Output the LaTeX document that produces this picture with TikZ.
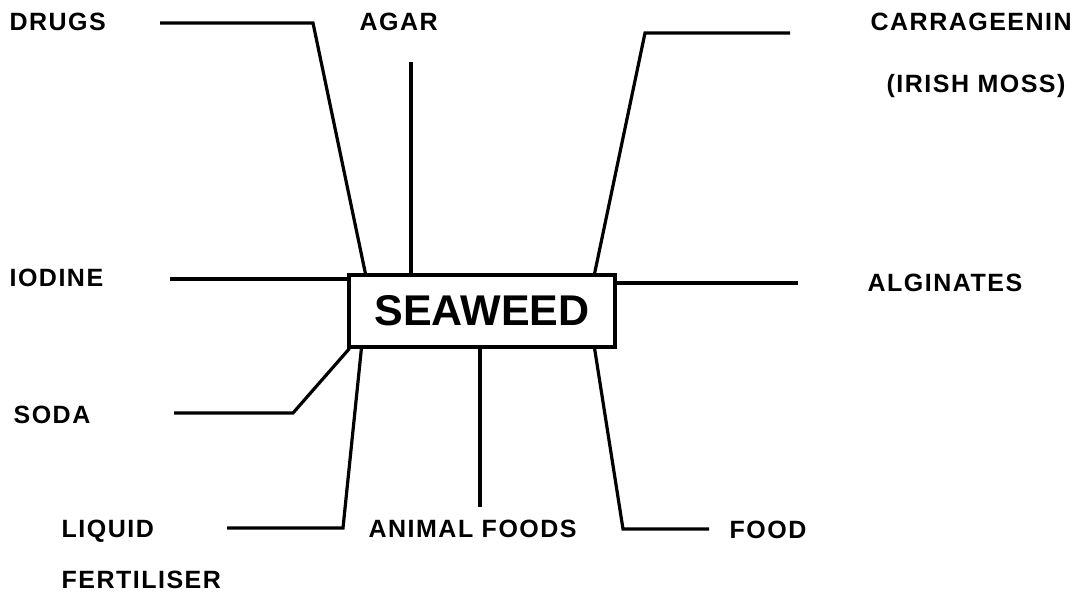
\documentclass[tikz,border=0pt]{standalone}
\usepackage{fontspec}
\setmainfont{Liberation Sans}
\newfontfamily\lblfont{Liberation Sans}[LetterSpace=6]
\usetikzlibrary{calc}
\tikzset{
  every picture/.style={line width=3.2pt, line join=miter},
  lbl/.style={font=\lblfont\bfseries\fontsize{25}{30}\selectfont, anchor=west, inner sep=0pt, text depth=0pt},
  hub/.style={draw, line width=3.2pt, minimum width=266pt, minimum height=72pt, inner sep=0pt,
    font=\bfseries\fontsize{43}{48}\selectfont},
  link/.style={draw=black},
}

\begin{document}
\begin{tikzpicture}[x=1pt, y=-1pt]
  \useasboundingbox (0,0) rectangle (1080,593);
  % centre box
  \node[hub] (seaweed) at (482,311) {SEAWEED};
  % labels
  \node[lbl] (drugs) at (8,22) {DRUGS};
  \node[lbl] (agar) at (358,22) {AGAR};
  \node[lbl] (carra) at (869,22) {CARRAGEENIN};
  \node[lbl] (irish) at (885,83) {(IRISH MOSS)};
  \node[lbl] (iodine) at (8,278) {IODINE};
  \node[lbl] (alginates) at (866,283) {ALGINATES};
  \node[lbl] (soda) at (12,415) {SODA};
  \node[lbl] (liquid) at (60,529) {LIQUID};
  \node[lbl] (fert) at (60,580) {FERTILISER};
  \node[lbl] (animal) at (367,529) {ANIMAL\ FOODS};
  \node[lbl] (food) at (728,530) {FOOD};
  % free ends and bends of the lines
  \coordinate (drugs-end) at (160,23); \coordinate (drugs-bend) at (313,23);
  \coordinate (agar-end) at (411,62);
  \coordinate (carra-end) at (790,33); \coordinate (carra-bend) at (645,33);
  \coordinate (iodine-end) at (170,279);
  \coordinate (alg-end) at (798,283);
  \coordinate (soda-end) at (174,413); \coordinate (soda-bend) at (293,413);
  \coordinate (liquid-end) at (227,528); \coordinate (liquid-bend) at (343,528);
  \coordinate (animal-end) at (480,507);
  \coordinate (food-end) at (709,529); \coordinate (food-bend) at (623,529);
  % lines
  \draw[link] (drugs-end) -- (drugs-bend) -- ($(seaweed.north west)+(18,0)$);
  \draw[link] (agar-end) -- (agar-end |- seaweed.north);
  \draw[link] (carra-end) -- (carra-bend) -- ($(seaweed.north east)+(-22,0)$);
  \draw[link] (iodine-end) -- (iodine-end -| seaweed.west);
  \draw[link] (alg-end -| seaweed.east) -- (alg-end);
  \draw[link] (soda-end) -- (soda-bend) -- ($(seaweed.south west)+(2,0)$);
  \draw[link] (liquid-end) -- (liquid-bend) -- ($(seaweed.south west)+(14,0)$);
  \draw[link] (animal-end |- seaweed.south) -- (animal-end);
  \draw[link] ($(seaweed.south east)+(-22,0)$) -- (food-bend) -- (food-end);
\end{tikzpicture}
\end{document}
